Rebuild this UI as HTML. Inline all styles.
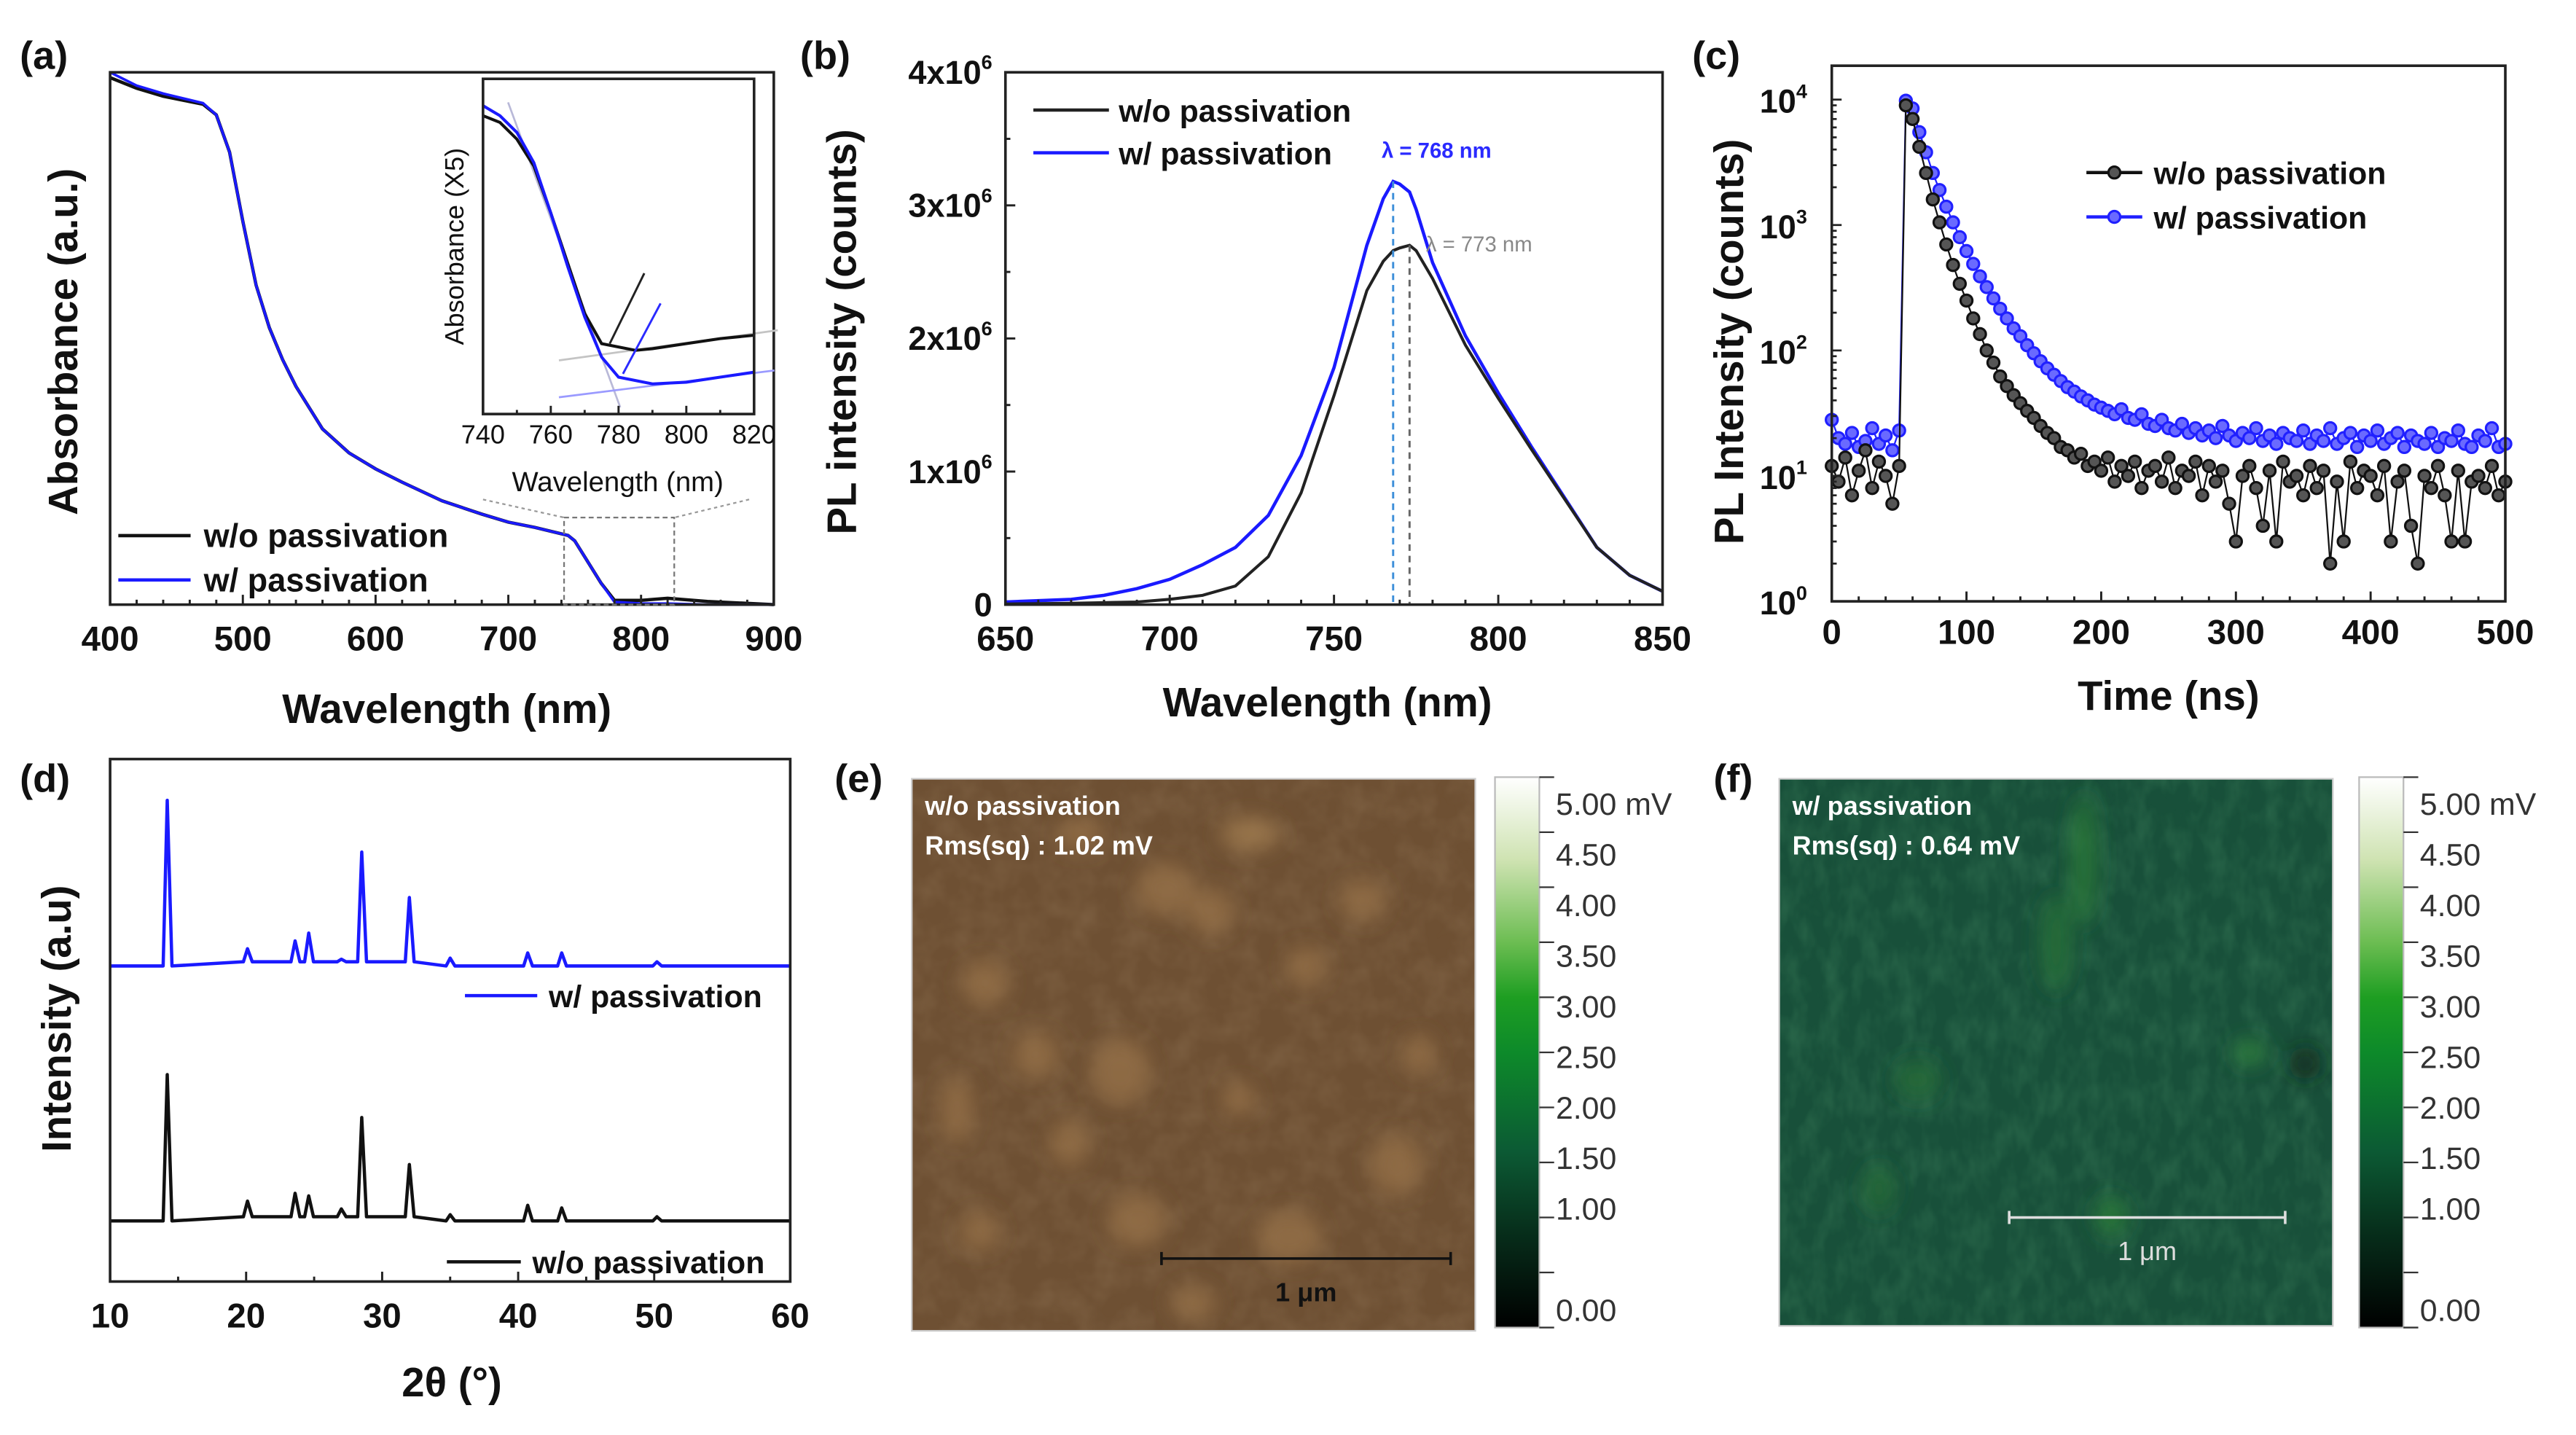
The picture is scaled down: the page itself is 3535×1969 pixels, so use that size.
<!DOCTYPE html>
<html><head><meta charset="utf-8"><title>Absorbance, PL, TRPL, XRD and KPFM panels</title>
<style>
html,body{margin:0;padding:0;background:#fff;}
svg{display:block;font-family:"Liberation Sans",Arial,sans-serif;}
</style></head>
<body>
<svg id="fig" xmlns="http://www.w3.org/2000/svg" width="3535" height="1969" viewBox="0 0 1568 873.4">
<defs>
<linearGradient id="cbar" x1="0" y1="1" x2="0" y2="0">
<stop offset="0" stop-color="#000"/><stop offset="0.18" stop-color="#07301c"/><stop offset="0.32" stop-color="#0c5a34"/>
<stop offset="0.5" stop-color="#0d8a2a"/><stop offset="0.6" stop-color="#1e9e22"/><stop offset="0.7" stop-color="#6cbd52"/>
<stop offset="0.85" stop-color="#cfe3b2"/><stop offset="1" stop-color="#fff"/></linearGradient>
<filter id="blur6"><feGaussianBlur stdDeviation="6"/></filter>
<filter id="noiseB" x="0" y="0" width="100%" height="100%"><feTurbulence type="fractalNoise" baseFrequency="0.06" numOctaves="3" seed="3"/><feColorMatrix values="0 0 0 0 0.5  0 0 0 0 0.36  0 0 0 0 0.22  0 0 0 0.9 -0.3"/></filter>
<filter id="noiseG" x="0" y="0" width="100%" height="100%"><feTurbulence type="fractalNoise" baseFrequency="0.09 0.05" numOctaves="3" seed="7"/><feColorMatrix values="0 0 0 0 0.12  0 0 0 0 0.42  0 0 0 0 0.2  0 0 0 1.1 -0.4"/></filter>
</defs>
</svg>
<script>
// ---------- data (a) ----------
const absX=[400,420,440,460,470,480,490,500,510,520,530,540,560,580,600,620,650,680,700,720,745,750,760,770,780,800,820,850,900];
const absBlack=[0.99,0.97,0.955,0.945,0.94,0.92,0.85,0.72,0.6,0.52,0.46,0.41,0.33,0.285,0.255,0.23,0.195,0.17,0.155,0.145,0.13,0.12,0.08,0.04,0.008,0.008,0.012,0.006,0.0];
const absBlue=[1.0,0.975,0.96,0.948,0.942,0.92,0.85,0.72,0.6,0.52,0.46,0.41,0.33,0.285,0.255,0.23,0.195,0.17,0.155,0.145,0.13,0.12,0.08,0.04,0.005,0.002,0.002,0.0,0.0];
const insX=[740,745,750,755,760,765,770,775,780,785,790,800,810,820];
const insBlack=[0.89,0.87,0.82,0.74,0.6,0.45,0.3,0.21,0.2,0.19,0.195,0.21,0.225,0.235];
const insBlue=[0.92,0.89,0.84,0.75,0.6,0.44,0.29,0.17,0.11,0.1,0.09,0.095,0.11,0.125];
const absTicks=[400,500,600,700,800,900];
const insTicks=[740,760,780,800,820];
// ---------- data (b) ----------
const plX=[650,670,680,690,700,710,720,730,740,750,760,765,768,770,773,775,780,790,800,810,820,830,840,850];
const plBlack=[0.005,0.01,0.015,0.02,0.04,0.07,0.14,0.36,0.84,1.57,2.36,2.58,2.66,2.68,2.7,2.66,2.45,1.95,1.55,1.17,0.8,0.43,0.22,0.1];
const plBlue=[0.02,0.04,0.07,0.12,0.19,0.3,0.43,0.67,1.12,1.78,2.7,3.05,3.18,3.16,3.1,2.97,2.57,2.02,1.59,1.19,0.81,0.43,0.22,0.1];
const plXTicks=[650,700,750,800,850];
const plYTicks=[0,1,2,3,4];
const plPeakBlue=768, plPeakBlack=773;
// ---------- data (c) ----------
const trT=[0,5,10,15,20,25,30,35,40,45,50,55,60,65,70,75,80,85,90,95,100,105,110,115,120,125,130,135,140,145,150,155,160,165,170,175,180,185,190,195,200,205,210,215,220,225,230,235,240,245,250,255,260,265,270,275,280,285,290,295,300,305,310,315,320,325,330,335,340,345,350,355,360,365,370,375,380,385,390,395,400,405,410,415,420,425,430,435,440,445,450,455,460,465,470,475,480,485,490,495,500];
const trBlack=[12,9,14,7,11,16,8,13,10,6,12,9000,7000,4200,2600,1600,1050,700,480,340,250,180,135,100,80,62,52,44,38,33,29,25,22,20,17,16,14,15,12,13,11,14,9,12,10,13,8,11,12,9,14,8,11,10,13,7,12,9,11,6,3,10,12,8,4,11,3,13,9,10,7,12,8,11,2,9,3,13,8,11,10,7,12,3,9,11,4,2,10,8,12,7,3,11,3,9,10,8,12,7,9];
const trBlue=[28,20,18,22,17,19,24,18,21,16,23,9800,8500,5500,3800,2600,1900,1400,1050,800,620,490,390,320,260,215,180,150,130,110,95,82,72,64,57,51,47,43,40,37,35,33,31,34,29,28,31,26,25,28,24,23,26,22,24,21,23,20,25,21,19,22,20,24,19,21,18,22,20,19,23,18,21,19,24,18,20,22,17,21,19,23,18,20,22,17,21,19,18,22,17,20,19,23,18,17,21,19,24,17,18];
const trXTicks=[0,100,200,300,400,500];
const trYTicks=[0,1,2,3,4];
// ---------- data (d) ----------
const xrdPeaks=[14.2,20.1,23.6,24.6,27.0,28.5,32.0,35.0,40.7,43.2,50.2];
const xrdBlack=[28,3,4.5,4,1.5,19,10,1.2,3,2.5,0.8];
const xrdBlue=[31.7,2.5,4,5.5,0.5,21,12.3,1.5,2.5,2.5,0.8];
const xrdBaseBlack=11.6, xrdBaseBlue=60.4;
const xrdTicks=[10,20,30,40,50,60];
// ---------- colorbar ----------
const cbLabels=["0.00","1.00","1.50","2.00","2.50","3.00","3.50","4.00","4.50","5.00 mV"];
const cbValues=[0,1,1.5,2,2.5,3,3.5,4,4.5,5];

const NS="http://www.w3.org/2000/svg";
const svg=document.getElementById('fig');
function mk(tag,attrs,parent){const e=document.createElementNS(NS,tag);for(const k in attrs)e.setAttribute(k,attrs[k]);(parent||svg).appendChild(e);return e;}
function txt(s,x,y,size,opt,parent){const o=Object.assign({x:x,y:y,'font-size':size,'font-weight':'bold',fill:'#111'},opt||{});const e=mk('text',o,parent);e.textContent=s;return e;}
function lin(d0,d1,r0,r1){return v=>r0+(v-d0)/(d1-d0)*(r1-r0);}
function pathOf(xs,ys,fx,fy){return xs.map((x,i)=>(i?'L':'M')+fx(x).toFixed(2)+','+fy(ys[i]).toFixed(2)).join('');}
function frame(x0,y0,x1,y1,g){return mk('rect',{x:x0,y:y0,width:x1-x0,height:y1-y0,fill:'none',stroke:'#222','stroke-width':1.6},g);}
function xticks(g,fx,ticks,minorStep,y1,len){const a=ticks[0],b=ticks[ticks.length-1];for(let v=a;v<=b+1e-9;v+=minorStep){const maj=ticks.some(t=>Math.abs(t-v)<1e-6);mk('line',{x1:fx(v),x2:fx(v),y1:y1,y2:y1-(maj?len:len/2),stroke:'#222','stroke-width':1.3},g);}}

// ================= (a) =================
let g=mk('g',{});


let t=txt('(a)',12,42,24,{},g);


const ax=lin(400,900,67,471), ay=lin(0,1,368,44);
let el=mk('path',{d:pathOf(absX,absBlack,ax,ay),fill:'none',stroke:'#111','stroke-width':2},g);


el=mk('path',{d:pathOf(absX,absBlue,ax,ay),fill:'none',stroke:'#1a1aff','stroke-width':1.6},g);


frame(67,44,471,368,g);
xticks(g,ax,absTicks,20,368,6);
absTicks.forEach(v=>{const e=txt(String(v),ax(v),396,21,{'text-anchor':'middle'},g);

});
t=txt('Wavelength (nm)',272,440,25,{'text-anchor':'middle'},g);


t=txt('Absorbance (a.u.)',0,0,25,{'text-anchor':'middle',transform:'translate(47,208) rotate(-90)'},g);


el=mk('rect',{x:ax(742),y:315,width:ax(825)-ax(742),height:53,fill:'none',stroke:'#777','stroke-width':1,'stroke-dasharray':'3,2'},g);


mk('line',{x1:294,y1:304,x2:ax(742),y2:315,stroke:'#999','stroke-width':1,'stroke-dasharray':'2,2'},g);
mk('line',{x1:456,y1:304,x2:ax(825),y2:315,stroke:'#999','stroke-width':1,'stroke-dasharray':'2,2'},g);
mk('line',{x1:72,x2:116,y1:326,y2:326,stroke:'#111','stroke-width':2},g);
mk('line',{x1:72,x2:116,y1:353,y2:353,stroke:'#1a1aff','stroke-width':2},g);
t=txt('w/o passivation',124,333,20,{},g);


t=txt('w/ passivation',124,360,20,{},g);


let gi=mk('g',{},g);


const ix=lin(740,820,294,459), iy=lin(0,1,252,48);
mk('rect',{x:294,y:48,width:165,height:204,fill:'#fff'},gi);
mk('line',{x1:ix(747.4),y1:iy(0.93),x2:ix(780.5),y2:iy(0.02),stroke:'#b9b9d8','stroke-width':1.2},gi);
mk('line',{x1:ix(762.4),y1:iy(0.16),x2:ix(827),y2:iy(0.25),stroke:'#c4c4c4','stroke-width':1.2},gi);
mk('line',{x1:ix(762.4),y1:iy(0.05),x2:ix(826),y2:iy(0.13),stroke:'#9a9aff','stroke-width':1.2},gi);
el=mk('path',{d:pathOf(insX,insBlack,ix,iy),fill:'none',stroke:'#111','stroke-width':1.8},gi);


el=mk('path',{d:pathOf(insX,insBlue,ix,iy),fill:'none',stroke:'#1a1aff','stroke-width':1.8},gi);


mk('line',{x1:ix(777.4),y1:iy(0.21),x2:ix(787.6),y2:iy(0.42),stroke:'#222','stroke-width':1.3},gi);
mk('line',{x1:ix(781.3),y1:iy(0.12),x2:ix(792.4),y2:iy(0.33),stroke:'#2a2aff','stroke-width':1.3},gi);
frame(294,48,459,252,gi);
xticks(gi,ix,insTicks,10,252,5);
insTicks.forEach(v=>{const e=txt(String(v),ix(v),270,16,{'text-anchor':'middle','font-weight':'normal'},gi);

});
t=txt('Wavelength (nm)',376,299,17,{'text-anchor':'middle','font-weight':'normal'},gi);


t=txt('Absorbance (X5)',0,0,16,{'text-anchor':'middle','font-weight':'normal',transform:'translate(282,150) rotate(-90)'},gi);



// ================= (b) =================
g=mk('g',{});


t=txt('(b)',487,42,24,{},g);


const bx=lin(650,850,612,1012), by=lin(0,4,368,44);
el=mk('path',{d:pathOf(plX,plBlue,bx,by),fill:'none',stroke:'#1a1aff','stroke-width':2},g);


el=mk('path',{d:pathOf(plX,plBlack,bx,by),fill:'none',stroke:'#222','stroke-width':1.8},g);


el=mk('line',{x1:bx(plPeakBlue),x2:bx(plPeakBlue),y1:by(plBlue[plX.indexOf(plPeakBlue)]),y2:368,stroke:'#3d8fd9','stroke-width':1.3,'stroke-dasharray':'4,3'},g);


el=mk('line',{x1:bx(plPeakBlack),x2:bx(plPeakBlack),y1:by(plBlack[plX.indexOf(plPeakBlack)]),y2:368,stroke:'#666','stroke-width':1.3,'stroke-dasharray':'4,3'},g);


t=txt('λ = '+plPeakBlue+' nm',bx(plPeakBlue)-7,96,13,{fill:'#2a2aff'},g);


t=txt('λ = '+plPeakBlack+' nm',bx(plPeakBlack)+10,153,13,{fill:'#888','font-weight':'normal'},g);


frame(612,44,1012,368,g);
xticks(g,bx,plXTicks,10,368,6);
for(let v=0;v<=4;v+=0.5){mk('line',{x1:612,x2:612+(v%1===0?6:3),y1:by(v),y2:by(v),stroke:'#222','stroke-width':1.3},g);}
plXTicks.forEach(v=>{const e=txt(String(v),bx(v),396,21,{'text-anchor':'middle'},g);

});
plYTicks.forEach(v=>{const e=txt(v===0?'0':v+'x10',604,by(v)+7,20,{'text-anchor':'end'},g);
if(v!==0){const s=mk('tspan',{dy:-9,'font-size':12},e);s.textContent='6';}

});
t=txt('Wavelength (nm)',808,436,25,{'text-anchor':'middle'},g);


t=txt('PL intensity (counts)',0,0,25,{'text-anchor':'middle',transform:'translate(521,202) rotate(-90)'},g);


mk('line',{x1:629,x2:675,y1:67,y2:67,stroke:'#222','stroke-width':2},g);
mk('line',{x1:629,x2:675,y1:93,y2:93,stroke:'#1a1aff','stroke-width':2},g);
t=txt('w/o passivation',681,74,19,{},g);


t=txt('w/ passivation',681,100,19,{},g);



// ================= (c) =================
g=mk('g',{});


t=txt('(c)',1030,42,24,{},g);


const cx=lin(0,500,1115,1525), cy=v=>lin(0,4.27,366,40)(Math.log10(v));
const series=[[trBlue,'#2020ff','#6a6aff','trpl-with-passivation'],[trBlack,'#111','#555','trpl-without-passivation']];
series.forEach(s=>{
 const gs=mk('g',{},g);
 
 
 mk('path',{d:pathOf(trT,s[0],cx,cy),fill:'none',stroke:s[1],'stroke-width':1},gs);
 trT.forEach((tt,i)=>{const c=mk('circle',{cx:cx(tt),cy:cy(s[0][i]),r:3.6,fill:s[2],stroke:s[1],'stroke-width':1.4},gs);
 
 });
});
frame(1115,40,1525,366,g);
xticks(g,cx,trXTicks,20,366,6);
for(let d=0;d<4.27;d++){for(let m=1;m<10;m++){const v=Math.log10(m)+d;if(v>4.27)break;mk('line',{x1:1115,x2:1115+(m===1?6:3),y1:lin(0,4.27,366,40)(v),y2:lin(0,4.27,366,40)(v),stroke:'#222','stroke-width':1.2},g);}}
trXTicks.forEach(v=>{const e=txt(String(v),cx(v),392,21,{'text-anchor':'middle'},g);

});
trYTicks.forEach(v=>{const e=txt('10',1100,lin(0,4.27,366,40)(v)+8,20,{'text-anchor':'end'},g);
const s=mk('tspan',{dy:-9,'font-size':12},e);s.textContent=String(v);

});
t=txt('Time (ns)',1320,432,25,{'text-anchor':'middle'},g);


t=txt('PL Intensity (counts)',0,0,25,{'text-anchor':'middle',transform:'translate(1061,208) rotate(-90)'},g);


mk('line',{x1:1270,x2:1304,y1:105,y2:105,stroke:'#111','stroke-width':2},g);
mk('circle',{cx:1287,cy:105,r:3.6,fill:'#555',stroke:'#111','stroke-width':1.4},g);
mk('line',{x1:1270,x2:1304,y1:132,y2:132,stroke:'#2020ff','stroke-width':2},g);
mk('circle',{cx:1287,cy:132,r:3.6,fill:'#6a6aff',stroke:'#2020ff','stroke-width':1.4},g);
t=txt('w/o passivation',1311,112,19,{},g);


t=txt('w/ passivation',1311,139,19,{},g);



// ================= (d) =================
g=mk('g',{});


t=txt('(d)',12,482,24,{},g);


const dx=lin(10,60,67,481), dy=lin(0,100,780,462);
function xrdPath(base,heights){let xs=[10],ys=[base];xrdPeaks.forEach((p,i)=>{xs.push(p-0.3,p,p+0.35);const hump=(p>20&&p<33)?0.8:0;ys.push(base+hump,base+hump+heights[i],base+hump);});xs.push(60);ys.push(base);return pathOf(xs,ys,dx,dy);}
el=mk('path',{d:xrdPath(xrdBaseBlue,xrdBlue),fill:'none',stroke:'#1a1aff','stroke-width':2,'stroke-linejoin':'round'},g);


el=mk('path',{d:xrdPath(xrdBaseBlack,xrdBlack),fill:'none',stroke:'#111','stroke-width':2,'stroke-linejoin':'round'},g);


frame(67,462,481,780,g);
xticks(g,dx,xrdTicks,5,780,6);
xrdTicks.forEach(v=>{const e=txt(String(v),dx(v),808,21,{'text-anchor':'middle'},g);

});
t=txt('2θ (°)',275,850,25,{'text-anchor':'middle'},g);


t=txt('Intensity (a.u)',0,0,25,{'text-anchor':'middle',transform:'translate(43,620) rotate(-90)'},g);


mk('line',{x1:283,x2:327,y1:606,y2:606,stroke:'#1a1aff','stroke-width':2},g);
t=txt('w/ passivation',334,613,19,{},g);


mk('line',{x1:272,x2:317,y1:768,y2:768,stroke:'#111','stroke-width':2},g);
t=txt('w/o passivation',324,775,19,{},g);



// ================= (e),(f) =================
function afm(id,label,lx,x0,y0,w,h,base,blob,noise,nop,title,rms,bar,barColor,cbx,blobs){
 const gg=mk('g',{});
 
 
 let tt=txt(label,lx,482,24,{},gg);
 
 
 const clip=mk('clipPath',{id:'clip'+id},gg);mk('rect',{x:x0,y:y0,width:w,height:h},clip);
 const img=mk('g',{'clip-path':'url(#clip'+id+')'},gg);
 
 
 mk('rect',{x:x0,y:y0,width:w,height:h,fill:base},img);
 mk('rect',{x:x0,y:y0,width:w,height:h,filter:'url(#'+noise+')',opacity:nop},img);
 const bg=mk('g',{filter:'url(#blur6)'},img);
 blobs.forEach(b=>mk('ellipse',{cx:x0+b[0]*w,cy:y0+b[1]*h,rx:b[2],ry:b[3],fill:b[4]||blob,opacity:0.8},bg));
 mk('rect',{x:x0,y:y0,width:w,height:h,fill:'none',stroke:'#ccc','stroke-width':1},gg);
 tt=txt(title,x0+8,y0+22,16,{fill:'#fff'},gg);
 
 
 tt=txt(rms,x0+8,y0+46,16,{fill:'#fff','xml:space':'preserve'},gg);
 
 
 const sb=mk('path',{d:`M${bar[0]},${bar[2]-4}V${bar[2]+4}M${bar[0]},${bar[2]}H${bar[1]}M${bar[1]},${bar[2]-4}V${bar[2]+4}`,stroke:barColor,'stroke-width':1.6,fill:'none'},gg);
 
 
 tt=txt('1 μm',(bar[0]+bar[1])/2,bar[2]+26,16,{fill:barColor,'text-anchor':'middle','font-weight':id==='e'?'bold':'normal'},gg);
 
 
 const cbar=mk('rect',{x:cbx,y:473,width:27,height:335,fill:'url(#cbar)',stroke:'#bbb','stroke-width':1},gg);
 
 
 const cyf=lin(0,5,797,489);
 for(let k=0;k<=10;k++){const yy=lin(0,10,808,473)(k);mk('line',{x1:cbx+27,x2:cbx+36,y1:yy,y2:yy,stroke:'#333','stroke-width':1},gg);}
 cbValues.forEach((v,i)=>{const e=txt(cbLabels[i],cbx+37,cyf(v)+7,19,{'font-weight':'normal',fill:'#333'},gg);
 
 });
}
afm('e','(e)',508,555,474,343,336,'#6e5033','#957148','noiseB',0.3,'w/o passivation','Rms(sq) :  1.02  mV',[707,883,766],'#111',910,
 [[0.45,0.2,18,16],[0.8,0.22,14,12],[0.13,0.37,14,14],[0.37,0.53,18,20],[0.53,0.24,14,14],[0.7,0.34,12,12],[0.22,0.5,14,14],[0.86,0.7,16,18],[0.67,0.83,20,16],[0.4,0.8,18,16],[0.12,0.82,12,12],[0.28,0.66,12,14],[0.58,0.58,10,10],[0.9,0.5,10,12],[0.6,0.1,18,10,'#a07c50'],[0.3,0.1,14,10],[0.08,0.6,10,20],[0.5,0.95,14,10]]);
afm('f','(f)',1043,1083,474,337,333,'#18503a','#27783a','noiseG',0.35,'w/ passivation','Rms(sq) : 0.64 mV',[1223,1391,741],'#ddd',1436,
 [[0.55,0.15,8,40,'#2a7c3a'],[0.5,0.3,10,30,'#266f37'],[0.85,0.5,10,8,'#33883e'],[0.25,0.55,14,12,'#256d37'],[0.18,0.75,10,14,'#256d37'],[0.95,0.52,10,10,'#0a2416'],[0.6,0.8,10,12,'#2a7c3a']]);
</script>
</body></html>
